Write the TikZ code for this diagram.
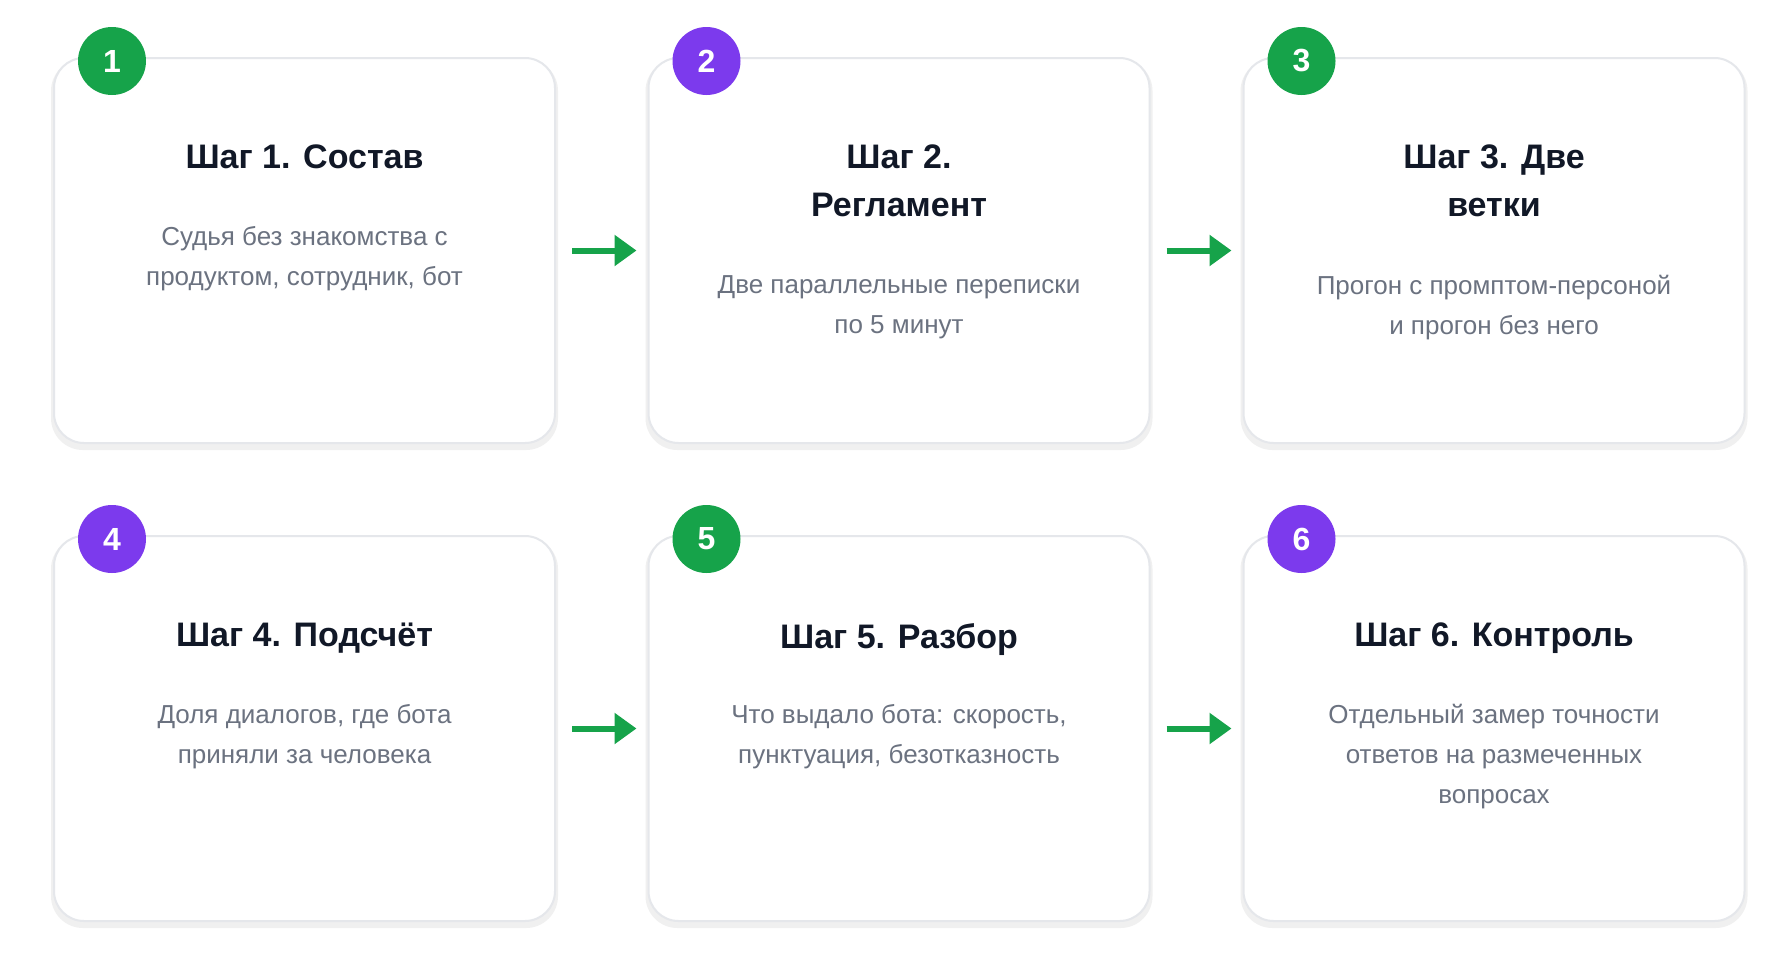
\documentclass[tikz,border=0pt]{standalone}
\usepackage{fontspec}
\setmainfont{Liberation Sans}
\usetikzlibrary{arrows.meta,positioning}
\definecolor{stepgreen}{HTML}{16A34A}
\definecolor{steppurple}{HTML}{7C3AED}
\definecolor{cardline}{HTML}{E5E7EB}
\definecolor{titlecol}{HTML}{111827}
\definecolor{bodycol}{HTML}{6B7280}
\tikzset{
  card/.style={draw=cardline,line width=2pt,fill=white,rounded corners=30pt,
    minimum width=501pt,minimum height=385pt,inner sep=0pt},
  cardshadow/.style={fill=black!6,rounded corners=32pt,minimum width=507pt,minimum height=391pt,inner sep=0pt},
  badge/.style={circle,minimum size=68pt,inner sep=0pt,text=white,font=\fontsize{32}{36}\selectfont\bfseries},
  steptitle/.style={anchor=north,inner sep=0pt,align=center,text=titlecol,font=\fontsize{34}{48}\selectfont\bfseries},
  stepbody/.style={anchor=north,inner sep=0pt,align=center,text=bodycol,font=\fontsize{26}{40}\selectfont},
  steparrow/.style={-{Triangle[length=22pt,width=30pt]},line width=6pt,draw=stepgreen}
}
\begin{document}
\begin{tikzpicture}[x=1pt,y=1pt]
  \useasboundingbox[fill=white] (0,0) rectangle (1790,-977);
  % cards
  \foreach \n/\cx/\cy in {1/304.5/-250.5,2/899/-250.5,3/1494/-250.5,4/304.5/-728.5,5/899/-728.5,6/1494/-728.5}{
    \node[cardshadow] at (\cx,\cy-4) {};
    \node[card] (card\n) at (\cx,\cy) {};
  }
  % badges
  \foreach \n/\c in {1/stepgreen,2/steppurple,3/stepgreen,4/steppurple,5/stepgreen,6/steppurple}
    \node[badge,fill=\c] (badge\n) at ([xshift=59pt,yshift=-4pt]card\n.north west) {\n};
  % texts
  \node[steptitle] (title1) at ([yshift=-88pt]card1.north) {Шаг 1. Состав};
  \node[stepbody] (body1) at ([yshift=-169pt]card1.north) {Судья без знакомства с\\продуктом, сотрудник, бот};
  \node[steptitle] (title2) at ([yshift=-88pt]card2.north) {Шаг 2.\\Регламент};
  \node[stepbody] (body2) at ([yshift=-218pt]card2.north) {Две параллельные переписки\\по 5 минут};
  \node[steptitle] (title3) at ([yshift=-88pt]card3.north) {Шаг 3. Две\\ветки};
  \node[stepbody] (body3) at ([yshift=-218pt]card3.north) {Прогон с промптом-персоной\\и прогон без него};
  \node[steptitle] (title4) at ([yshift=-88pt]card4.north) {Шаг 4. Подсчёт};
  \node[stepbody] (body4) at ([yshift=-169pt]card4.north) {Доля диалогов, где бота\\приняли за человека};
  \node[steptitle] (title5) at ([yshift=-88pt]card5.north) {Шаг 5. Разбор};
  \node[stepbody] (body5) at ([yshift=-169pt]card5.north) {Что выдало бота: скорость,\\пунктуация, безотказность};
  \node[steptitle] (title6) at ([yshift=-88pt]card6.north) {Шаг 6. Контроль};
  \node[stepbody] (body6) at ([yshift=-169pt]card6.north) {Отдельный замер точности\\ответов на размеченных\\вопросах};
  % arrows
  \draw[steparrow] ([xshift=16pt]card1.east) -- ([xshift=-11pt]card2.west);
  \draw[steparrow] ([xshift=16pt]card2.east) -- ([xshift=-11pt]card3.west);
  \draw[steparrow] ([xshift=16pt]card4.east) -- ([xshift=-11pt]card5.west);
  \draw[steparrow] ([xshift=16pt]card5.east) -- ([xshift=-11pt]card6.west);
\end{tikzpicture}
\end{document}
